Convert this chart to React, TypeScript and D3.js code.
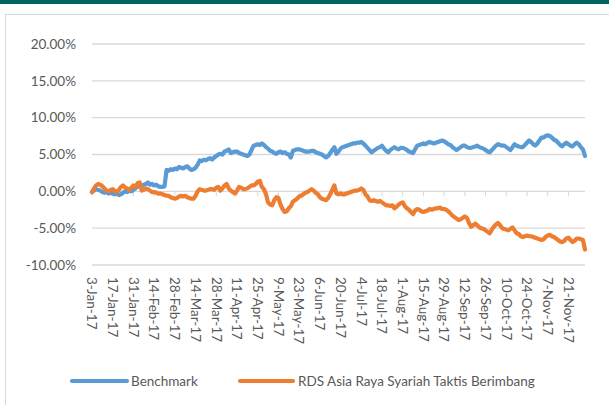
import React from 'react';
import * as d3 from 'd3';

// daily returns (%), one value per trading day from 3-Jan-17
const benchmark = [
  -0.1, 0.1, 0.3, 0.2, 0.1, -0.1, -0.2, -0.1, -0.3, -0.2,
  -0.3, -0.4, -0.3, -0.5, -0.4, -0.2, 0.0, -0.1, 0.1, 0.0,
  0.2, 0.4, 0.6, 0.8, 0.7, 0.9, 1.0, 1.2, 0.9, 1.0,
  0.8, 0.9, 0.7, 0.6, 0.6, 0.7, 2.9, 2.8, 3.0, 2.9,
  3.1, 3.0, 3.3, 3.2, 3.1, 3.3, 3.4, 3.1, 2.9, 3.0,
  3.2, 3.6, 4.2, 4.1, 4.3, 4.2, 4.4, 4.5, 4.3, 4.6,
  4.8, 5.0, 5.1, 5.0, 5.4, 5.5, 5.7, 5.2, 5.3, 5.4,
  5.4, 5.2, 5.1, 5.0, 4.9, 4.8, 5.0, 5.6, 6.2, 6.3,
  6.4, 6.3, 6.5, 6.3, 6.0, 5.8, 5.5, 5.4, 5.2, 5.1,
  5.3, 5.4, 5.2, 5.3, 5.1, 5.0, 4.6, 5.5, 5.6, 5.7,
  5.7, 5.6, 5.5, 5.4, 5.4, 5.4, 5.5, 5.5, 5.3, 5.2,
  5.1, 5.0, 4.8, 4.6, 4.8, 5.2, 5.6, 6.0, 5.1, 5.4,
  5.8, 6.0, 6.1, 6.2, 6.3, 6.4, 6.5, 6.5, 6.6, 6.6,
  6.7, 6.5, 6.2, 5.9, 5.6, 5.3, 5.5, 5.7, 5.9, 6.0,
  6.2, 5.8, 5.5, 5.3, 5.6, 5.8, 6.0, 5.8, 5.7, 5.9,
  5.9, 5.8, 5.6, 5.4, 5.3, 5.2, 5.7, 6.2, 6.3, 6.4,
  6.5, 6.4, 6.6, 6.7, 6.6, 6.5, 6.6, 6.7, 6.8, 6.9,
  6.8, 6.6, 6.4, 6.3, 6.0, 5.8, 5.6, 5.8, 6.0, 6.2,
  6.2, 6.0, 5.9, 5.9, 6.0, 6.1, 6.2, 6.0, 5.9, 5.8,
  5.6, 5.4, 5.3, 5.6, 5.9, 6.2, 6.4, 6.3, 6.2, 6.2,
  6.0, 5.8, 5.6, 6.0, 6.4, 6.2, 6.1, 6.0, 6.0, 6.3,
  6.6, 6.9, 6.7, 6.4, 6.2, 6.5, 6.9, 7.3, 7.3, 7.5,
  7.6, 7.5, 7.3, 7.0, 6.9, 6.6, 6.3, 6.1, 6.4, 6.6,
  6.4, 6.2, 6.1, 6.4, 6.6, 6.4, 6.0, 5.7, 4.8,
];

const rds = [
  -0.1, 0.4, 0.8, 1.0, 0.9, 0.7, 0.4, 0.1, 0.0, 0.2,
  0.3, 0.1, -0.1, 0.2, 0.6, 0.8, 0.5, 0.4, 0.2, 0.5,
  0.8, 0.6, 1.1, 1.2, 0.1, 0.2, 0.4, 0.3, 0.1, -0.1,
  -0.1, -0.2, -0.3, -0.3, -0.4, -0.5, -0.6, -0.6, -0.8, -0.9,
  -1.0, -0.9, -0.7, -0.6, -0.7, -0.6, -0.8, -0.9, -1.0, -1.0,
  -0.6, 0.0, 0.3, 0.2, 0.1, 0.1, 0.2, 0.3, 0.3, 0.2,
  0.5, 0.6, 0.1, 0.4, 0.8, 1.0, 0.4, 0.1, -0.1, -0.3,
  0.1, 0.6, 0.5, 0.3, 0.3, 0.4, 0.6, 0.8, 0.8, 1.0,
  1.3, 1.4, 0.6, 0.3, -0.4, -1.5, -1.8, -1.9, -1.2, -0.8,
  -0.9, -1.8, -2.4, -2.8, -2.7, -2.3, -2.0, -1.4, -1.2, -1.0,
  -0.7, -0.6, -0.4, -0.2, -0.1, 0.1, 0.3, 0.1, -0.2, -0.4,
  -0.8, -1.0, -1.1, -1.2, -0.9, -0.4, 0.2, 0.8, -0.3, -0.4,
  -0.3, -0.4, -0.4, -0.3, -0.2, -0.1, 0.0, 0.1, 0.1, 0.2,
  0.4, 0.2, -0.4, -0.7, -1.2, -1.3, -1.2, -1.3, -1.4, -1.3,
  -1.5, -1.7, -1.9, -1.9, -2.0, -1.9, -2.3, -2.1, -1.8, -1.6,
  -1.5, -2.0, -2.3, -2.5, -2.8, -3.1, -2.6, -2.4, -2.5, -2.7,
  -2.8, -2.7, -2.6, -2.4, -2.5, -2.4, -2.3, -2.3, -2.2, -2.4,
  -2.4, -2.5, -2.7, -3.0, -3.3, -3.5, -3.7, -3.9, -3.8, -3.6,
  -3.4, -3.6, -4.3, -4.8, -4.6, -4.4, -4.6, -4.9, -5.0, -5.1,
  -5.3, -5.5, -5.7, -5.2, -4.8, -4.5, -4.3, -4.6, -5.0, -5.1,
  -5.2, -5.3, -5.1, -4.9, -5.3, -5.7, -5.8, -6.1, -6.2, -6.1,
  -6.0, -6.1, -6.1, -6.2, -6.3, -6.4, -6.5, -6.6, -6.5, -6.2,
  -6.0, -5.9, -6.1, -6.2, -6.4, -6.6, -6.8, -6.9, -6.7, -6.4,
  -6.3, -6.6, -6.9, -6.7, -6.4, -6.4, -6.5, -6.6, -7.9,
];

// one label every 10 trading days
const dateLabels = [
  '3-Jan-17', '17-Jan-17', '31-Jan-17', '14-Feb-17', '28-Feb-17', '14-Mar-17',
  '28-Mar-17', '11-Apr-17', '25-Apr-17', '9-May-17', '23-May-17', '6-Jun-17',
  '20-Jun-17', '4-Jul-17', '18-Jul-17', '1-Aug-17', '15-Aug-17', '29-Aug-17',
  '12-Sep-17', '26-Sep-17', '10-Oct-17', '24-Oct-17', '7-Nov-17', '21-Nov-17',
];
const labelStep = 10;
const yTicks = [-10, -5, 0, 5, 10, 15, 20];

const seriesNames = ['Benchmark', 'RDS Asia Raya Syariah Taktis Berimbang'];
const colors = ['#5B9BD5', '#ED7D31'];

const W = 609;
const H = 405;
const font = 'Lato, "Open Sans", sans-serif';

export default function App() {
  const x = d3.scaleLinear().domain([0, benchmark.length - 1]).range([92, 585]);
  const y = d3.scaleLinear().domain([-10, 20]).range([265, 44]);

  const line = d3
    .line<number>()
    .x((_, i) => x(i))
    .y(d => y(d))
    .curve(d3.curveLinear);

  const y0 = y(0);

  return (
    <svg
      width={W}
      height={H}
      style={{ position: 'absolute', left: 0, top: 0, background: '#fff' }}
      fontFamily={font}
    >
      <rect x={0} y={0} width={W} height={4} fill="#02665F" />
      <rect x={5.5} y={14.5} width={640} height={420} fill="#fff" stroke="#D9D9D9" />

      {yTicks.map(t => (
        <g key={t}>
          <line x1={92} x2={585} y1={y(t)} y2={y(t)} stroke="#D9D9D9" strokeWidth={1.3} />
          <text x={76} y={y(t)} dy="0.35em" textAnchor="end" fontSize={13.5} fill="#595959">
            {t.toFixed(2) + '%'}
          </text>
        </g>
      ))}

      {dateLabels.map((lab, k) => {
        const xi = x(k * labelStep);
        return (
          <g key={lab}>
            <line x1={xi} x2={xi} y1={y0} y2={y0 + 5} stroke="#D9D9D9" strokeWidth={1} />
            <text
              transform={`translate(${xi},277) rotate(90)`}
              dy="0.35em"
              fontSize={13.5}
              fill="#595959"
            >
              {lab}
            </text>
          </g>
        );
      })}

      {[benchmark, rds].map((s, k) => (
        <path
          key={k}
          d={line(s) || ''}
          fill="none"
          stroke={colors[k]}
          strokeWidth={4.2}
          strokeLinejoin="round"
          strokeLinecap="round"
        />
      ))}

      <g fontSize={13.5} fill="#595959">
        <line x1={72} x2={127} y1={381} y2={381} stroke={colors[0]} strokeWidth={4.2} strokeLinecap="round" />
        <text x={131} y={381} dy="0.35em">{seriesNames[0]}</text>
        <line x1={240} x2={293} y1={381} y2={381} stroke={colors[1]} strokeWidth={4.2} strokeLinecap="round" />
        <text x={298} y={381} dy="0.35em">{seriesNames[1]}</text>
      </g>
    </svg>
  );
}
